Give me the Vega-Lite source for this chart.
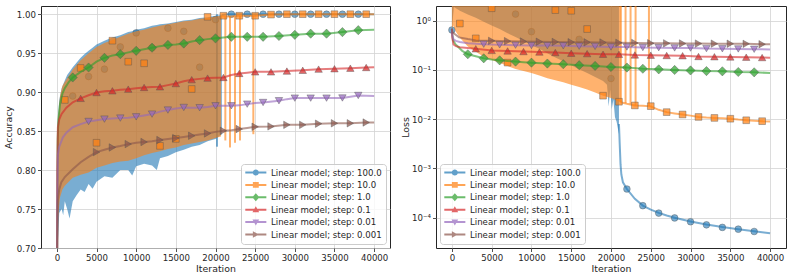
{
"$schema":"https://vega.github.io/schema/vega-lite/v6.json",
"background":"white",
"padding":{"left":2,"top":5,"right":6,"bottom":2},
"spacing":9,
"datasets":{
"aB":[
{"s":"100.0","x":0,"y":0.60,"hi":0.75},{"s":"100.0","x":100,"y":0.70,"hi":0.86},{"s":"100.0","x":300,"y":0.745,"hi":0.89},{"s":"100.0","x":600,"y":0.75,"hi":0.905},{"s":"100.0","x":800,"y":0.742,"hi":0.91},{"s":"100.0","x":1000,"y":0.76,"hi":0.915},{"s":"100.0","x":1300,"y":0.75,"hi":0.922},{"s":"100.0","x":1600,"y":0.738,"hi":0.926},{"s":"100.0","x":2000,"y":0.76,"hi":0.932},{"s":"100.0","x":2500,"y":0.768,"hi":0.938},{"s":"100.0","x":3000,"y":0.775,"hi":0.944},{"s":"100.0","x":3500,"y":0.772,"hi":0.949},{"s":"100.0","x":4000,"y":0.782,"hi":0.953},{"s":"100.0","x":4500,"y":0.776,"hi":0.957},{"s":"100.0","x":5000,"y":0.785,"hi":0.961},{"s":"100.0","x":6000,"y":0.792,"hi":0.966},{"s":"100.0","x":7000,"y":0.79,"hi":0.970},{"s":"100.0","x":8000,"y":0.80,"hi":0.973},{"s":"100.0","x":9000,"y":0.80,"hi":0.977},{"s":"100.0","x":9500,"y":0.793,"hi":0.978},{"s":"100.0","x":10000,"y":0.805,"hi":0.980},{"s":"100.0","x":11000,"y":0.808,"hi":0.982},{"s":"100.0","x":12000,"y":0.806,"hi":0.985},{"s":"100.0","x":12600,"y":0.800,"hi":0.986},{"s":"100.0","x":13000,"y":0.815,"hi":0.987},{"s":"100.0","x":14000,"y":0.818,"hi":0.988},{"s":"100.0","x":15000,"y":0.823,"hi":0.990},{"s":"100.0","x":16000,"y":0.826,"hi":0.992},{"s":"100.0","x":17000,"y":0.830,"hi":0.993},{"s":"100.0","x":18000,"y":0.832,"hi":0.995},{"s":"100.0","x":19000,"y":0.837,"hi":0.996},{"s":"100.0","x":20000,"y":0.840,"hi":0.998},{"s":"100.0","x":20800,"y":0.846,"hi":0.999},
{"s":"10.0","x":0,"y":0.60,"hi":0.74},{"s":"10.0","x":150,"y":0.74,"hi":0.865},{"s":"10.0","x":400,"y":0.765,"hi":0.895},{"s":"10.0","x":700,"y":0.775,"hi":0.908},{"s":"10.0","x":1000,"y":0.780,"hi":0.913},{"s":"10.0","x":2000,"y":0.790,"hi":0.929},{"s":"10.0","x":3000,"y":0.794,"hi":0.941},{"s":"10.0","x":4000,"y":0.797,"hi":0.950},{"s":"10.0","x":5000,"y":0.803,"hi":0.958},{"s":"10.0","x":6000,"y":0.806,"hi":0.963},{"s":"10.0","x":7000,"y":0.809,"hi":0.967},{"s":"10.0","x":8000,"y":0.811,"hi":0.971},{"s":"10.0","x":9000,"y":0.812,"hi":0.975},{"s":"10.0","x":10000,"y":0.815,"hi":0.978},{"s":"10.0","x":11000,"y":0.819,"hi":0.980},{"s":"10.0","x":12000,"y":0.822,"hi":0.983},{"s":"10.0","x":13000,"y":0.824,"hi":0.985},{"s":"10.0","x":14000,"y":0.827,"hi":0.987},{"s":"10.0","x":15000,"y":0.829,"hi":0.989},{"s":"10.0","x":16000,"y":0.832,"hi":0.991},{"s":"10.0","x":17000,"y":0.834,"hi":0.992},{"s":"10.0","x":18000,"y":0.836,"hi":0.994},{"s":"10.0","x":19000,"y":0.838,"hi":0.995},{"s":"10.0","x":20000,"y":0.841,"hi":0.997},{"s":"10.0","x":20700,"y":0.843,"hi":0.998}
],
"aS":[
{"s":"100.0","x":20190,"y":0.83,"hi":1.0},
{"s":"10.0","x":21240,"y":0.838,"hi":0.997},{"s":"10.0","x":21830,"y":0.829,"hi":0.997},{"s":"10.0","x":22460,"y":0.835,"hi":0.997},{"s":"10.0","x":23090,"y":0.838,"hi":0.998},{"s":"10.0","x":24770,"y":0.846,"hi":0.998}
],
"aL":[
{"s":"100.0","x":20800,"y":0.999},{"s":"100.0","x":21500,"y":1.0},{"s":"100.0","x":40000,"y":1.0},
{"s":"10.0","x":20700,"y":0.997},{"s":"10.0","x":22000,"y":0.997},{"s":"10.0","x":23000,"y":0.998},{"s":"10.0","x":25000,"y":0.998},{"s":"10.0","x":27000,"y":0.9995},{"s":"10.0","x":30000,"y":1.0},{"s":"10.0","x":40000,"y":1.0},
{"s":"1.0","x":0,"y":0.5},{"s":"1.0","x":50,"y":0.78},{"s":"1.0","x":100,"y":0.84},{"s":"1.0","x":200,"y":0.865},{"s":"1.0","x":400,"y":0.885},{"s":"1.0","x":700,"y":0.898},{"s":"1.0","x":1000,"y":0.905},{"s":"1.0","x":1500,"y":0.913},{"s":"1.0","x":2000,"y":0.9188},{"s":"1.0","x":3000,"y":0.926},{"s":"1.0","x":4000,"y":0.9316},{"s":"1.0","x":5000,"y":0.939},{"s":"1.0","x":6000,"y":0.944},{"s":"1.0","x":7000,"y":0.947},{"s":"1.0","x":8000,"y":0.9487},{"s":"1.0","x":9000,"y":0.951},{"s":"1.0","x":10000,"y":0.953},{"s":"1.0","x":11000,"y":0.955},{"s":"1.0","x":12000,"y":0.957},{"s":"1.0","x":13000,"y":0.959},{"s":"1.0","x":14000,"y":0.9606},{"s":"1.0","x":15000,"y":0.961},{"s":"1.0","x":16000,"y":0.9623},{"s":"1.0","x":17000,"y":0.965},{"s":"1.0","x":18000,"y":0.9667},{"s":"1.0","x":19000,"y":0.968},{"s":"1.0","x":20000,"y":0.969},{"s":"1.0","x":21000,"y":0.970},{"s":"1.0","x":22000,"y":0.971},{"s":"1.0","x":24000,"y":0.971},{"s":"1.0","x":26000,"y":0.971},{"s":"1.0","x":28000,"y":0.972},{"s":"1.0","x":30000,"y":0.9735},{"s":"1.0","x":32000,"y":0.975},{"s":"1.0","x":34000,"y":0.975},{"s":"1.0","x":36000,"y":0.977},{"s":"1.0","x":38000,"y":0.9795},{"s":"1.0","x":40000,"y":0.980},
{"s":"0.1","x":0,"y":0.5},{"s":"0.1","x":50,"y":0.80},{"s":"0.1","x":130,"y":0.855},{"s":"0.1","x":300,"y":0.865},{"s":"0.1","x":600,"y":0.872},{"s":"0.1","x":1200,"y":0.880},{"s":"0.1","x":2000,"y":0.887},{"s":"0.1","x":3000,"y":0.892},{"s":"0.1","x":4000,"y":0.896},{"s":"0.1","x":5000,"y":0.8995},{"s":"0.1","x":6000,"y":0.901},{"s":"0.1","x":7000,"y":0.9017},{"s":"0.1","x":8000,"y":0.903},{"s":"0.1","x":9000,"y":0.9038},{"s":"0.1","x":10000,"y":0.905},{"s":"0.1","x":11000,"y":0.906},{"s":"0.1","x":12000,"y":0.9065},{"s":"0.1","x":13000,"y":0.9068},{"s":"0.1","x":14000,"y":0.909},{"s":"0.1","x":15000,"y":0.911},{"s":"0.1","x":16000,"y":0.914},{"s":"0.1","x":17000,"y":0.916},{"s":"0.1","x":18000,"y":0.917},{"s":"0.1","x":19000,"y":0.918},{"s":"0.1","x":20000,"y":0.9185},{"s":"0.1","x":21000,"y":0.9188},{"s":"0.1","x":22000,"y":0.922},{"s":"0.1","x":23000,"y":0.924},{"s":"0.1","x":24000,"y":0.925},{"s":"0.1","x":25000,"y":0.926},{"s":"0.1","x":27000,"y":0.926},{"s":"0.1","x":29000,"y":0.927},{"s":"0.1","x":31000,"y":0.928},{"s":"0.1","x":33000,"y":0.9295},{"s":"0.1","x":35000,"y":0.930},{"s":"0.1","x":37000,"y":0.9307},{"s":"0.1","x":39000,"y":0.9316},{"s":"0.1","x":40000,"y":0.932},
{"s":"0.01","x":0,"y":0.5},{"s":"0.01","x":50,"y":0.76},{"s":"0.01","x":130,"y":0.82},{"s":"0.01","x":300,"y":0.83},{"s":"0.01","x":760,"y":0.842},{"s":"0.01","x":1200,"y":0.848},{"s":"0.01","x":2000,"y":0.855},{"s":"0.01","x":3000,"y":0.859},{"s":"0.01","x":4000,"y":0.8623},{"s":"0.01","x":5000,"y":0.864},{"s":"0.01","x":6000,"y":0.8654},{"s":"0.01","x":7000,"y":0.866},{"s":"0.01","x":8000,"y":0.8667},{"s":"0.01","x":9000,"y":0.867},{"s":"0.01","x":10000,"y":0.8683},{"s":"0.01","x":11000,"y":0.870},{"s":"0.01","x":12000,"y":0.8718},{"s":"0.01","x":13000,"y":0.875},{"s":"0.01","x":14000,"y":0.877},{"s":"0.01","x":15000,"y":0.879},{"s":"0.01","x":16000,"y":0.8803},{"s":"0.01","x":17000,"y":0.880},{"s":"0.01","x":18000,"y":0.880},{"s":"0.01","x":19000,"y":0.881},{"s":"0.01","x":20000,"y":0.8825},{"s":"0.01","x":22000,"y":0.8825},{"s":"0.01","x":23000,"y":0.883},{"s":"0.01","x":24000,"y":0.8846},{"s":"0.01","x":25000,"y":0.886},{"s":"0.01","x":26000,"y":0.8867},{"s":"0.01","x":28000,"y":0.889},{"s":"0.01","x":29000,"y":0.891},{"s":"0.01","x":30000,"y":0.8923},{"s":"0.01","x":32000,"y":0.8923},{"s":"0.01","x":34000,"y":0.8923},{"s":"0.01","x":36000,"y":0.8925},{"s":"0.01","x":37000,"y":0.894},{"s":"0.01","x":38000,"y":0.8957},{"s":"0.01","x":40000,"y":0.895},
{"s":"0.001","x":0,"y":0.5},{"s":"0.001","x":50,"y":0.70},{"s":"0.001","x":130,"y":0.761},{"s":"0.001","x":300,"y":0.775},{"s":"0.001","x":550,"y":0.784},{"s":"0.001","x":1000,"y":0.791},{"s":"0.001","x":2000,"y":0.801},{"s":"0.001","x":3000,"y":0.810},{"s":"0.001","x":4000,"y":0.817},{"s":"0.001","x":5000,"y":0.823},{"s":"0.001","x":6000,"y":0.826},{"s":"0.001","x":7000,"y":0.829},{"s":"0.001","x":8000,"y":0.831},{"s":"0.001","x":9000,"y":0.8333},{"s":"0.001","x":10000,"y":0.835},{"s":"0.001","x":11000,"y":0.836},{"s":"0.001","x":12000,"y":0.837},{"s":"0.001","x":13000,"y":0.8385},{"s":"0.001","x":14000,"y":0.840},{"s":"0.001","x":15000,"y":0.841},{"s":"0.001","x":16000,"y":0.8425},{"s":"0.001","x":17000,"y":0.844},{"s":"0.001","x":18000,"y":0.8455},{"s":"0.001","x":19000,"y":0.847},{"s":"0.001","x":20000,"y":0.849},{"s":"0.001","x":21000,"y":0.8504},{"s":"0.001","x":22000,"y":0.851},{"s":"0.001","x":23000,"y":0.8526},{"s":"0.001","x":24000,"y":0.854},{"s":"0.001","x":25000,"y":0.8555},{"s":"0.001","x":27000,"y":0.856},{"s":"0.001","x":29000,"y":0.858},{"s":"0.001","x":31000,"y":0.858},{"s":"0.001","x":33000,"y":0.8595},{"s":"0.001","x":35000,"y":0.860},{"s":"0.001","x":37000,"y":0.860},{"s":"0.001","x":39000,"y":0.861},{"s":"0.001","x":40000,"y":0.861}
],
"aM":[
{"s":"100.0","x":2000,"y":0.895},{"s":"100.0","x":4000,"y":0.92},{"s":"100.0","x":6000,"y":0.9295},{"s":"100.0","x":8000,"y":0.958},{"s":"100.0","x":10000,"y":0.976},{"s":"100.0","x":12000,"y":0.957},{"s":"100.0","x":14000,"y":0.982},{"s":"100.0","x":16000,"y":0.978},{"s":"100.0","x":18000,"y":0.932},{"s":"100.0","x":20000,"y":0.993},{"s":"100.0","x":22000,"y":1.0},{"s":"100.0","x":24000,"y":1.0},{"s":"100.0","x":26000,"y":1.0},{"s":"100.0","x":28000,"y":1.0},{"s":"100.0","x":30000,"y":1.0},{"s":"100.0","x":32000,"y":1.0},{"s":"100.0","x":34000,"y":1.0},{"s":"100.0","x":36000,"y":1.0},{"s":"100.0","x":38000,"y":1.0},
{"s":"10.0","x":1000,"y":0.89},{"s":"10.0","x":3000,"y":0.931},{"s":"10.0","x":5000,"y":0.835},{"s":"10.0","x":7000,"y":0.966},{"s":"10.0","x":9000,"y":0.939},{"s":"10.0","x":11000,"y":0.937},{"s":"10.0","x":13000,"y":0.831},{"s":"10.0","x":15000,"y":0.840},{"s":"10.0","x":17000,"y":0.904},{"s":"10.0","x":19000,"y":0.9966},{"s":"10.0","x":21000,"y":0.998},{"s":"10.0","x":23000,"y":0.998},{"s":"10.0","x":25000,"y":0.998},{"s":"10.0","x":27000,"y":0.9995},{"s":"10.0","x":29000,"y":1.0},{"s":"10.0","x":31000,"y":1.0},{"s":"10.0","x":33000,"y":1.0},{"s":"10.0","x":35000,"y":1.0},{"s":"10.0","x":37000,"y":1.0},{"s":"10.0","x":39000,"y":1.0},
{"s":"1.0","x":2000,"y":0.9188},{"s":"1.0","x":4000,"y":0.9316},{"s":"1.0","x":6000,"y":0.944},{"s":"1.0","x":8000,"y":0.9487},{"s":"1.0","x":10000,"y":0.953},{"s":"1.0","x":12000,"y":0.957},{"s":"1.0","x":14000,"y":0.9606},{"s":"1.0","x":16000,"y":0.9623},{"s":"1.0","x":18000,"y":0.9667},{"s":"1.0","x":20000,"y":0.969},{"s":"1.0","x":22000,"y":0.971},{"s":"1.0","x":24000,"y":0.971},{"s":"1.0","x":26000,"y":0.971},{"s":"1.0","x":28000,"y":0.972},{"s":"1.0","x":30000,"y":0.9735},{"s":"1.0","x":32000,"y":0.975},{"s":"1.0","x":34000,"y":0.975},{"s":"1.0","x":36000,"y":0.977},{"s":"1.0","x":38000,"y":0.9795},
{"s":"0.1","x":3000,"y":0.892},{"s":"0.1","x":5000,"y":0.8995},{"s":"0.1","x":7000,"y":0.9017},{"s":"0.1","x":9000,"y":0.9038},{"s":"0.1","x":11000,"y":0.906},{"s":"0.1","x":13000,"y":0.9068},{"s":"0.1","x":15000,"y":0.911},{"s":"0.1","x":17000,"y":0.916},{"s":"0.1","x":19000,"y":0.918},{"s":"0.1","x":21000,"y":0.9188},{"s":"0.1","x":23000,"y":0.924},{"s":"0.1","x":25000,"y":0.926},{"s":"0.1","x":27000,"y":0.926},{"s":"0.1","x":29000,"y":0.927},{"s":"0.1","x":31000,"y":0.928},{"s":"0.1","x":33000,"y":0.9295},{"s":"0.1","x":35000,"y":0.930},{"s":"0.1","x":37000,"y":0.9307},{"s":"0.1","x":39000,"y":0.9316},
{"s":"0.01","x":4000,"y":0.8623},{"s":"0.01","x":6000,"y":0.8654},{"s":"0.01","x":8000,"y":0.8667},{"s":"0.01","x":10000,"y":0.8683},{"s":"0.01","x":12000,"y":0.8718},{"s":"0.01","x":14000,"y":0.877},{"s":"0.01","x":16000,"y":0.8803},{"s":"0.01","x":18000,"y":0.880},{"s":"0.01","x":20000,"y":0.8825},{"s":"0.01","x":22000,"y":0.8825},{"s":"0.01","x":24000,"y":0.8846},{"s":"0.01","x":26000,"y":0.8867},{"s":"0.01","x":28000,"y":0.889},{"s":"0.01","x":30000,"y":0.8923},{"s":"0.01","x":32000,"y":0.8923},{"s":"0.01","x":34000,"y":0.8923},{"s":"0.01","x":36000,"y":0.8925},{"s":"0.01","x":38000,"y":0.8957},
{"s":"0.001","x":5000,"y":0.823},{"s":"0.001","x":7000,"y":0.829},{"s":"0.001","x":9000,"y":0.8333},{"s":"0.001","x":11000,"y":0.836},{"s":"0.001","x":13000,"y":0.8385},{"s":"0.001","x":15000,"y":0.841},{"s":"0.001","x":17000,"y":0.844},{"s":"0.001","x":19000,"y":0.847},{"s":"0.001","x":21000,"y":0.8504},{"s":"0.001","x":23000,"y":0.8526},{"s":"0.001","x":25000,"y":0.8555},{"s":"0.001","x":27000,"y":0.856},{"s":"0.001","x":29000,"y":0.858},{"s":"0.001","x":31000,"y":0.858},{"s":"0.001","x":33000,"y":0.8595},{"s":"0.001","x":35000,"y":0.860},{"s":"0.001","x":37000,"y":0.860},{"s":"0.001","x":39000,"y":0.861}
],
"lB":[
{"s":"100.0","x":0,"y":0.69,"hi":3},{"s":"100.0","x":250,"y":1.9,"hi":3},{"s":"100.0","x":1000,"y":1.6,"hi":3},{"s":"100.0","x":2000,"y":1.35,"hi":3},{"s":"100.0","x":3000,"y":1.15,"hi":3},{"s":"100.0","x":4000,"y":0.96,"hi":3},{"s":"100.0","x":5000,"y":0.8,"hi":3},{"s":"100.0","x":6000,"y":0.68,"hi":3},{"s":"100.0","x":7000,"y":0.56,"hi":3},{"s":"100.0","x":8000,"y":0.47,"hi":3},{"s":"100.0","x":9000,"y":0.39,"hi":3},{"s":"100.0","x":10000,"y":0.32,"hi":3},{"s":"100.0","x":11000,"y":0.27,"hi":3},{"s":"100.0","x":12000,"y":0.22,"hi":3},{"s":"100.0","x":13000,"y":0.18,"hi":3},{"s":"100.0","x":14000,"y":0.15,"hi":3},{"s":"100.0","x":15000,"y":0.125,"hi":3},{"s":"100.0","x":16000,"y":0.104,"hi":3},{"s":"100.0","x":17000,"y":0.087,"hi":3},{"s":"100.0","x":18000,"y":0.072,"hi":3},{"s":"100.0","x":19000,"y":0.06,"hi":3},{"s":"100.0","x":19500,"y":0.05,"hi":3},{"s":"100.0","x":19700,"y":0.018,"hi":3},{"s":"100.0","x":19900,"y":0.04,"hi":3},{"s":"100.0","x":20100,"y":0.016,"hi":3},{"s":"100.0","x":20300,"y":0.025,"hi":3},{"s":"100.0","x":20500,"y":0.011,"hi":3},{"s":"100.0","x":20700,"y":0.009,"hi":3},{"s":"100.0","x":20900,"y":0.006,"hi":3},{"s":"100.0","x":21000,"y":0.005,"hi":3},
{"s":"10.0","x":0,"y":0.69,"hi":3},{"s":"10.0","x":200,"y":0.8,"hi":3},{"s":"10.0","x":500,"y":0.6,"hi":3},{"s":"10.0","x":1000,"y":0.45,"hi":3},{"s":"10.0","x":2000,"y":0.3,"hi":3},{"s":"10.0","x":3000,"y":0.235,"hi":3},{"s":"10.0","x":4000,"y":0.185,"hi":3},{"s":"10.0","x":5000,"y":0.16,"hi":3},{"s":"10.0","x":6000,"y":0.14,"hi":3},{"s":"10.0","x":7000,"y":0.12,"hi":3},{"s":"10.0","x":8000,"y":0.105,"hi":3},{"s":"10.0","x":9000,"y":0.095,"hi":3},{"s":"10.0","x":10000,"y":0.087,"hi":3},{"s":"10.0","x":11000,"y":0.077,"hi":3},{"s":"10.0","x":12000,"y":0.068,"hi":3},{"s":"10.0","x":13000,"y":0.062,"hi":3},{"s":"10.0","x":14000,"y":0.056,"hi":3},{"s":"10.0","x":15000,"y":0.05,"hi":3},{"s":"10.0","x":16000,"y":0.045,"hi":3},{"s":"10.0","x":17000,"y":0.04,"hi":3},{"s":"10.0","x":18000,"y":0.035,"hi":3},{"s":"10.0","x":19000,"y":0.03,"hi":3},{"s":"10.0","x":20000,"y":0.027,"hi":3},{"s":"10.0","x":20700,"y":0.024,"hi":3},{"s":"10.0","x":21200,"y":0.022,"hi":3}
],
"lS":[
{"s":"10.0","x":21240,"y":0.022,"hi":3},{"s":"10.0","x":21830,"y":0.021,"hi":3},{"s":"10.0","x":22460,"y":0.02,"hi":3},{"s":"10.0","x":23090,"y":0.019,"hi":3},{"s":"10.0","x":24770,"y":0.0184,"hi":3}
],
"lL":[
{"s":"100.0","x":21000,"y":0.008},{"s":"100.0","x":21100,"y":0.003},{"s":"100.0","x":21200,"y":0.0012},{"s":"100.0","x":21300,"y":0.00075},{"s":"100.0","x":21500,"y":0.00052},{"s":"100.0","x":22000,"y":0.00038},{"s":"100.0","x":23000,"y":0.00024},{"s":"100.0","x":24000,"y":0.000175},{"s":"100.0","x":25000,"y":0.000145},{"s":"100.0","x":26000,"y":0.000124},{"s":"100.0","x":27000,"y":0.00011},{"s":"100.0","x":28000,"y":0.000099},{"s":"100.0","x":30000,"y":0.000083},{"s":"100.0","x":32000,"y":0.000072},{"s":"100.0","x":34000,"y":0.000064},{"s":"100.0","x":36000,"y":0.000058},{"s":"100.0","x":38000,"y":0.0000525},{"s":"100.0","x":40000,"y":0.000048},
{"s":"10.0","x":21200,"y":0.022},{"s":"10.0","x":22000,"y":0.0205},{"s":"10.0","x":23000,"y":0.019},{"s":"10.0","x":24000,"y":0.0187},{"s":"10.0","x":25000,"y":0.0182},{"s":"10.0","x":26000,"y":0.0155},{"s":"10.0","x":27000,"y":0.0139},{"s":"10.0","x":28000,"y":0.0131},{"s":"10.0","x":29000,"y":0.01245},{"s":"10.0","x":30000,"y":0.0118},{"s":"10.0","x":31000,"y":0.0111},{"s":"10.0","x":32000,"y":0.0108},{"s":"10.0","x":33000,"y":0.0106},{"s":"10.0","x":34000,"y":0.0104},{"s":"10.0","x":35000,"y":0.0102},{"s":"10.0","x":36000,"y":0.0098},{"s":"10.0","x":37000,"y":0.0095},{"s":"10.0","x":38000,"y":0.0093},{"s":"10.0","x":39000,"y":0.0091},{"s":"10.0","x":40000,"y":0.009},
{"s":"1.0","x":0,"y":0.69},{"s":"1.0","x":30,"y":0.55},{"s":"1.0","x":150,"y":0.4},{"s":"1.0","x":470,"y":0.33},{"s":"1.0","x":1300,"y":0.245},{"s":"1.0","x":2000,"y":0.209},{"s":"1.0","x":3000,"y":0.19},{"s":"1.0","x":4000,"y":0.173},{"s":"1.0","x":5000,"y":0.164},{"s":"1.0","x":6000,"y":0.157},{"s":"1.0","x":7000,"y":0.152},{"s":"1.0","x":8000,"y":0.148},{"s":"1.0","x":9000,"y":0.144},{"s":"1.0","x":10000,"y":0.141},{"s":"1.0","x":12000,"y":0.135},{"s":"1.0","x":14000,"y":0.131},{"s":"1.0","x":16000,"y":0.125},{"s":"1.0","x":18000,"y":0.121},{"s":"1.0","x":20000,"y":0.115},{"s":"1.0","x":22000,"y":0.112},{"s":"1.0","x":24000,"y":0.106},{"s":"1.0","x":26000,"y":0.103},{"s":"1.0","x":28000,"y":0.1},{"s":"1.0","x":30000,"y":0.098},{"s":"1.0","x":32000,"y":0.095},{"s":"1.0","x":34000,"y":0.094},{"s":"1.0","x":36000,"y":0.091},{"s":"1.0","x":38000,"y":0.0897},{"s":"1.0","x":40000,"y":0.087},
{"s":"0.1","x":0,"y":0.69},{"s":"0.1","x":50,"y":0.45},{"s":"0.1","x":200,"y":0.33},{"s":"0.1","x":500,"y":0.305},{"s":"0.1","x":1000,"y":0.29},{"s":"0.1","x":2000,"y":0.28},{"s":"0.1","x":3000,"y":0.27},{"s":"0.1","x":5000,"y":0.25},{"s":"0.1","x":7000,"y":0.244},{"s":"0.1","x":9000,"y":0.237},{"s":"0.1","x":11000,"y":0.232},{"s":"0.1","x":13000,"y":0.226},{"s":"0.1","x":15000,"y":0.219},{"s":"0.1","x":17000,"y":0.215},{"s":"0.1","x":19000,"y":0.209},{"s":"0.1","x":21000,"y":0.208},{"s":"0.1","x":23000,"y":0.202},{"s":"0.1","x":25000,"y":0.2},{"s":"0.1","x":27000,"y":0.197},{"s":"0.1","x":29000,"y":0.195},{"s":"0.1","x":31000,"y":0.188},{"s":"0.1","x":33000,"y":0.186},{"s":"0.1","x":35000,"y":0.184},{"s":"0.1","x":37000,"y":0.182},{"s":"0.1","x":39000,"y":0.179},{"s":"0.1","x":40000,"y":0.177},
{"s":"0.01","x":0,"y":0.69},{"s":"0.01","x":50,"y":0.5},{"s":"0.01","x":200,"y":0.42},{"s":"0.01","x":500,"y":0.39},{"s":"0.01","x":1000,"y":0.37},{"s":"0.01","x":2000,"y":0.35},{"s":"0.01","x":3000,"y":0.34},{"s":"0.01","x":4000,"y":0.334},{"s":"0.01","x":6000,"y":0.324},{"s":"0.01","x":8000,"y":0.32},{"s":"0.01","x":10000,"y":0.314},{"s":"0.01","x":12000,"y":0.313},{"s":"0.01","x":14000,"y":0.31},{"s":"0.01","x":16000,"y":0.305},{"s":"0.01","x":18000,"y":0.302},{"s":"0.01","x":20000,"y":0.294},{"s":"0.01","x":22000,"y":0.293},{"s":"0.01","x":24000,"y":0.286},{"s":"0.01","x":26000,"y":0.284},{"s":"0.01","x":28000,"y":0.281},{"s":"0.01","x":30000,"y":0.279},{"s":"0.01","x":32000,"y":0.272},{"s":"0.01","x":34000,"y":0.27},{"s":"0.01","x":36000,"y":0.268},{"s":"0.01","x":38000,"y":0.264},{"s":"0.01","x":40000,"y":0.262},
{"s":"0.001","x":0,"y":0.69},{"s":"0.001","x":100,"y":0.58},{"s":"0.001","x":900,"y":0.46},{"s":"0.001","x":2000,"y":0.425},{"s":"0.001","x":3000,"y":0.40},{"s":"0.001","x":5000,"y":0.391},{"s":"0.001","x":7000,"y":0.386},{"s":"0.001","x":9000,"y":0.379},{"s":"0.001","x":11000,"y":0.375},{"s":"0.001","x":13000,"y":0.372},{"s":"0.001","x":15000,"y":0.367},{"s":"0.001","x":17000,"y":0.365},{"s":"0.001","x":19000,"y":0.362},{"s":"0.001","x":21000,"y":0.356},{"s":"0.001","x":23000,"y":0.354},{"s":"0.001","x":25000,"y":0.35},{"s":"0.001","x":27000,"y":0.348},{"s":"0.001","x":29000,"y":0.346},{"s":"0.001","x":31000,"y":0.344},{"s":"0.001","x":33000,"y":0.343},{"s":"0.001","x":35000,"y":0.342},{"s":"0.001","x":37000,"y":0.34},{"s":"0.001","x":39000,"y":0.334},{"s":"0.001","x":40000,"y":0.333}
],
"lM":[
{"s":"100.0","x":0,"y":0.65},{"s":"100.0","x":8000,"y":1.37},{"s":"100.0","x":10000,"y":0.6},{"s":"100.0","x":16000,"y":0.42},{"s":"100.0","x":20000,"y":0.067},{"s":"100.0","x":22000,"y":0.00038},{"s":"100.0","x":24000,"y":0.000174},{"s":"100.0","x":26000,"y":0.000123},{"s":"100.0","x":28000,"y":0.000098},{"s":"100.0","x":30000,"y":0.000082},{"s":"100.0","x":32000,"y":0.000071},{"s":"100.0","x":34000,"y":0.000063},{"s":"100.0","x":36000,"y":0.000058},{"s":"100.0","x":38000,"y":0.000052},
{"s":"10.0","x":1000,"y":0.88},{"s":"10.0","x":3000,"y":0.44},{"s":"10.0","x":5000,"y":1.8},{"s":"10.0","x":7000,"y":0.141},{"s":"10.0","x":13000,"y":1.65},{"s":"10.0","x":15000,"y":1.6},{"s":"10.0","x":17000,"y":0.68},{"s":"10.0","x":19000,"y":0.03},{"s":"10.0","x":21000,"y":0.0226},{"s":"10.0","x":23000,"y":0.019},{"s":"10.0","x":25000,"y":0.0184},{"s":"10.0","x":27000,"y":0.0139},{"s":"10.0","x":29000,"y":0.01245},{"s":"10.0","x":31000,"y":0.0111},{"s":"10.0","x":33000,"y":0.0106},{"s":"10.0","x":35000,"y":0.0102},{"s":"10.0","x":37000,"y":0.0095},{"s":"10.0","x":39000,"y":0.0091},
{"s":"1.0","x":2000,"y":0.209},{"s":"1.0","x":4000,"y":0.173},{"s":"1.0","x":6000,"y":0.157},{"s":"1.0","x":8000,"y":0.148},{"s":"1.0","x":10000,"y":0.141},{"s":"1.0","x":12000,"y":0.135},{"s":"1.0","x":14000,"y":0.131},{"s":"1.0","x":16000,"y":0.125},{"s":"1.0","x":18000,"y":0.121},{"s":"1.0","x":20000,"y":0.115},{"s":"1.0","x":22000,"y":0.112},{"s":"1.0","x":24000,"y":0.106},{"s":"1.0","x":26000,"y":0.103},{"s":"1.0","x":28000,"y":0.1},{"s":"1.0","x":30000,"y":0.098},{"s":"1.0","x":32000,"y":0.095},{"s":"1.0","x":34000,"y":0.094},{"s":"1.0","x":36000,"y":0.091},{"s":"1.0","x":38000,"y":0.0897},
{"s":"0.1","x":3000,"y":0.27},{"s":"0.1","x":5000,"y":0.25},{"s":"0.1","x":7000,"y":0.244},{"s":"0.1","x":9000,"y":0.237},{"s":"0.1","x":11000,"y":0.232},{"s":"0.1","x":13000,"y":0.226},{"s":"0.1","x":15000,"y":0.219},{"s":"0.1","x":17000,"y":0.215},{"s":"0.1","x":19000,"y":0.209},{"s":"0.1","x":21000,"y":0.208},{"s":"0.1","x":23000,"y":0.202},{"s":"0.1","x":25000,"y":0.2},{"s":"0.1","x":27000,"y":0.197},{"s":"0.1","x":29000,"y":0.195},{"s":"0.1","x":31000,"y":0.188},{"s":"0.1","x":33000,"y":0.186},{"s":"0.1","x":35000,"y":0.184},{"s":"0.1","x":37000,"y":0.182},{"s":"0.1","x":39000,"y":0.179},
{"s":"0.01","x":4000,"y":0.334},{"s":"0.01","x":6000,"y":0.324},{"s":"0.01","x":8000,"y":0.32},{"s":"0.01","x":10000,"y":0.314},{"s":"0.01","x":12000,"y":0.313},{"s":"0.01","x":14000,"y":0.31},{"s":"0.01","x":16000,"y":0.305},{"s":"0.01","x":18000,"y":0.302},{"s":"0.01","x":20000,"y":0.294},{"s":"0.01","x":22000,"y":0.293},{"s":"0.01","x":24000,"y":0.286},{"s":"0.01","x":26000,"y":0.284},{"s":"0.01","x":28000,"y":0.281},{"s":"0.01","x":30000,"y":0.279},{"s":"0.01","x":32000,"y":0.272},{"s":"0.01","x":34000,"y":0.27},{"s":"0.01","x":36000,"y":0.268},{"s":"0.01","x":38000,"y":0.264},
{"s":"0.001","x":5000,"y":0.391},{"s":"0.001","x":7000,"y":0.386},{"s":"0.001","x":9000,"y":0.379},{"s":"0.001","x":11000,"y":0.375},{"s":"0.001","x":13000,"y":0.372},{"s":"0.001","x":15000,"y":0.367},{"s":"0.001","x":17000,"y":0.365},{"s":"0.001","x":19000,"y":0.362},{"s":"0.001","x":21000,"y":0.356},{"s":"0.001","x":23000,"y":0.354},{"s":"0.001","x":25000,"y":0.35},{"s":"0.001","x":27000,"y":0.348},{"s":"0.001","x":29000,"y":0.346},{"s":"0.001","x":31000,"y":0.344},{"s":"0.001","x":33000,"y":0.343},{"s":"0.001","x":35000,"y":0.342},{"s":"0.001","x":37000,"y":0.34},{"s":"0.001","x":39000,"y":0.334}
]
},
"hconcat":[
{
"width":349,"height":242,
"encoding":{
"x":{"field":"x","type":"quantitative","scale":{"domain":[-2000,42000],"nice":false,"zero":false},"axis":{"values":[0,5000,10000,15000,20000,25000,30000,35000,40000],"format":"d","title":"Iteration"}},
"y":{"field":"y","type":"quantitative","scale":{"domain":[0.7,1.0105],"nice":false,"zero":false},"axis":{"values":[0.7,0.75,0.8,0.85,0.9,0.95,1.0],"format":".2f","title":"Accuracy"}}
},
"layer":[
{"data":{"name":"aB"},"transform":[{"filter":"datum.s=='100.0'"}],"mark":{"type":"area","color":"#1f77b4","opacity":0.6,"clip":true},"encoding":{"y2":{"field":"hi"}}},
{"data":{"name":"aS"},"transform":[{"filter":"datum.s=='100.0'"}],"mark":{"type":"rule","color":"#1f77b4","opacity":0.6,"strokeWidth":2,"clip":true},"encoding":{"y2":{"field":"hi"}}},
{"data":{"name":"aL"},"transform":[{"filter":"datum.s=='100.0'"}],"mark":{"type":"line","color":"#1f77b4","opacity":0.6,"strokeWidth":2,"clip":true},"encoding":{}},
{"data":{"name":"aM"},"transform":[{"filter":"datum.s=='100.0'"}],"mark":{"type":"point","shape":"circle","filled":true,"color":"#1f77b4","size":45,"fillOpacity":0.6,"stroke":"#555555","strokeWidth":0.7,"strokeOpacity":0.6,"clip":true},"encoding":{}},
{"data":{"name":"aB"},"transform":[{"filter":"datum.s=='10.0'"}],"mark":{"type":"area","color":"#ff7f0e","opacity":0.6,"clip":true},"encoding":{"y2":{"field":"hi"}}},
{"data":{"name":"aS"},"transform":[{"filter":"datum.s=='10.0'"}],"mark":{"type":"rule","color":"#ff7f0e","opacity":0.6,"strokeWidth":2,"clip":true},"encoding":{"y2":{"field":"hi"}}},
{"data":{"name":"aL"},"transform":[{"filter":"datum.s=='10.0'"}],"mark":{"type":"line","color":"#ff7f0e","opacity":0.6,"strokeWidth":2,"clip":true},"encoding":{}},
{"data":{"name":"aM"},"transform":[{"filter":"datum.s=='10.0'"}],"mark":{"type":"point","shape":"square","filled":true,"color":"#ff7f0e","size":45,"fillOpacity":0.7,"stroke":"#555555","strokeWidth":0.7,"strokeOpacity":0.6,"clip":true},"encoding":{}},
{"data":{"name":"aL"},"transform":[{"filter":"datum.s!='100.0' && datum.s!='10.0'"}],"mark":{"type":"line","opacity":0.6,"strokeWidth":2,"clip":true},"encoding":{"color":{"field":"s","type":"nominal","scale":{"domain":["100.0","10.0","1.0","0.1","0.01","0.001"],"range":["#1f77b4","#ff7f0e","#2ca02c","#d62728","#9467bd","#8c564b"]},"legend":null}}},
{"data":{"name":"aM"},"transform":[{"filter":"datum.s!='100.0' && datum.s!='10.0'"}],"mark":{"type":"point","filled":true,"fillOpacity":0.7,"stroke":"#555555","strokeWidth":0.7,"strokeOpacity":0.6,"clip":true},"encoding":{"color":{"field":"s","type":"nominal","scale":{"domain":["100.0","10.0","1.0","0.1","0.01","0.001"],"range":["#1f77b4","#ff7f0e","#2ca02c","#d62728","#9467bd","#8c564b"]},"legend":null},"shape":{"field":"s","type":"nominal","scale":{"domain":["100.0","10.0","1.0","0.1","0.01","0.001"],"range":["circle","square","diamond","triangle-up","triangle-down","triangle-right"]},"legend":null},"size":{"condition":{"test":"datum.s=='1.0'","value":85},"value":55}}},
{"data":{"name":"aM"},"mark":{"type":"point","filled":true,"opacity":0},"encoding":{"color":{"field":"s","type":"nominal","scale":{"domain":["100.0","10.0","1.0","0.1","0.01","0.001"],"range":["#1f77b4","#ff7f0e","#2ca02c","#d62728","#9467bd","#8c564b"]},"legend":{"orient":"bottom-right","offset":4,"title":null,"labelExpr":"'Linear model; step: ' + datum.label"}},"shape":{"field":"s","type":"nominal","scale":{"domain":["100.0","10.0","1.0","0.1","0.01","0.001"],"range":["M-1,-0.24H4V0.24H-1Z M2.22,0A0.72,0.72 0 1,1 0.78,0A0.72,0.72 0 1,1 2.22,0Z","M-1,-0.24H4V0.24H-1Z M0.8,-0.7H2.2V0.7H0.8Z","M-1,-0.24H4V0.24H-1Z M1.5,-0.95L2.35,0L1.5,0.95L0.65,0Z","M-1,-0.24H4V0.24H-1Z M1.5,-0.8L2.3,0.6L0.7,0.6Z","M-1,-0.24H4V0.24H-1Z M0.7,-0.6L2.3,-0.6L1.5,0.8Z","M-1,-0.24H4V0.24H-1Z M0.8,-0.8L2.2,0L0.8,0.8Z"]},"legend":{"orient":"bottom-right","offset":4,"title":null,"labelExpr":"'Linear model; step: ' + datum.label"}}}}
],
"resolve":{"scale":{"color":"independent","shape":"independent"}}
},
{
"width":350,"height":242,
"encoding":{
"x":{"field":"x","type":"quantitative","scale":{"domain":[-2000,42000],"nice":false,"zero":false},"axis":{"values":[0,5000,10000,15000,20000,25000,30000,35000,40000],"format":"d","title":"Iteration"}},
"y":{"field":"y","type":"quantitative","scale":{"type":"log","domain":[0.000024,2.0],"nice":false},"axis":{"values":[0.0001,0.001,0.01,0.1,1],"labelExpr":"datum.value >= 0.5 ? '10⁰' : datum.value >= 0.05 ? '10⁻¹' : datum.value >= 0.005 ? '10⁻²' : datum.value >= 0.0005 ? '10⁻³' : '10⁻⁴'","title":"Loss","titlePadding":1}}
},
"layer":[
{"data":{"name":"lB"},"transform":[{"filter":"datum.s=='100.0'"}],"mark":{"type":"area","color":"#1f77b4","opacity":0.6,"clip":true},"encoding":{"y2":{"field":"hi"}}},
{"data":{"name":"lL"},"transform":[{"filter":"datum.s=='100.0'"}],"mark":{"type":"line","color":"#1f77b4","opacity":0.6,"strokeWidth":2,"clip":true},"encoding":{}},
{"data":{"name":"lM"},"transform":[{"filter":"datum.s=='100.0'"}],"mark":{"type":"point","shape":"circle","filled":true,"color":"#1f77b4","size":45,"fillOpacity":0.6,"stroke":"#555555","strokeWidth":0.7,"strokeOpacity":0.6,"clip":true},"encoding":{}},
{"data":{"name":"lB"},"transform":[{"filter":"datum.s=='10.0'"}],"mark":{"type":"area","color":"#ff7f0e","opacity":0.6,"clip":true},"encoding":{"y2":{"field":"hi"}}},
{"data":{"name":"lS"},"transform":[{"filter":"datum.s=='10.0'"}],"mark":{"type":"rule","color":"#ff7f0e","opacity":0.6,"strokeWidth":2,"clip":true},"encoding":{"y2":{"field":"hi"}}},
{"data":{"name":"lL"},"transform":[{"filter":"datum.s=='10.0'"}],"mark":{"type":"line","color":"#ff7f0e","opacity":0.6,"strokeWidth":2,"clip":true},"encoding":{}},
{"data":{"name":"lM"},"transform":[{"filter":"datum.s=='10.0'"}],"mark":{"type":"point","shape":"square","filled":true,"color":"#ff7f0e","size":45,"fillOpacity":0.7,"stroke":"#555555","strokeWidth":0.7,"strokeOpacity":0.6,"clip":true},"encoding":{}},
{"data":{"name":"lL"},"transform":[{"filter":"datum.s!='100.0' && datum.s!='10.0'"}],"mark":{"type":"line","opacity":0.6,"strokeWidth":2,"clip":true},"encoding":{"color":{"field":"s","type":"nominal","scale":{"domain":["100.0","10.0","1.0","0.1","0.01","0.001"],"range":["#1f77b4","#ff7f0e","#2ca02c","#d62728","#9467bd","#8c564b"]},"legend":null}}},
{"data":{"name":"lM"},"transform":[{"filter":"datum.s!='100.0' && datum.s!='10.0'"}],"mark":{"type":"point","filled":true,"fillOpacity":0.7,"stroke":"#555555","strokeWidth":0.7,"strokeOpacity":0.6,"clip":true},"encoding":{"color":{"field":"s","type":"nominal","scale":{"domain":["100.0","10.0","1.0","0.1","0.01","0.001"],"range":["#1f77b4","#ff7f0e","#2ca02c","#d62728","#9467bd","#8c564b"]},"legend":null},"shape":{"field":"s","type":"nominal","scale":{"domain":["100.0","10.0","1.0","0.1","0.01","0.001"],"range":["circle","square","diamond","triangle-up","triangle-down","triangle-right"]},"legend":null},"size":{"condition":{"test":"datum.s=='1.0'","value":85},"value":55}}},
{"data":{"name":"lM"},"mark":{"type":"point","filled":true,"opacity":0},"encoding":{"color":{"field":"s","type":"nominal","scale":{"domain":["100.0","10.0","1.0","0.1","0.01","0.001"],"range":["#1f77b4","#ff7f0e","#2ca02c","#d62728","#9467bd","#8c564b"]},"legend":{"orient":"bottom-left","offset":4,"title":null,"labelExpr":"'Linear model; step: ' + datum.label"}},"shape":{"field":"s","type":"nominal","scale":{"domain":["100.0","10.0","1.0","0.1","0.01","0.001"],"range":["M-1,-0.24H4V0.24H-1Z M2.22,0A0.72,0.72 0 1,1 0.78,0A0.72,0.72 0 1,1 2.22,0Z","M-1,-0.24H4V0.24H-1Z M0.8,-0.7H2.2V0.7H0.8Z","M-1,-0.24H4V0.24H-1Z M1.5,-0.95L2.35,0L1.5,0.95L0.65,0Z","M-1,-0.24H4V0.24H-1Z M1.5,-0.8L2.3,0.6L0.7,0.6Z","M-1,-0.24H4V0.24H-1Z M0.7,-0.6L2.3,-0.6L1.5,0.8Z","M-1,-0.24H4V0.24H-1Z M0.8,-0.8L2.2,0L0.8,0.8Z"]},"legend":{"orient":"bottom-left","offset":4,"title":null,"labelExpr":"'Linear model; step: ' + datum.label"}}}}
],
"resolve":{"scale":{"color":"independent","shape":"independent"}}
}
],
"config":{
"font":"DejaVu Sans",
"view":{"stroke":"#262626","strokeWidth":1},
"axis":{"labelFont":"DejaVu Sans","labelFontSize":8.6,"labelColor":"#262626","titleFont":"DejaVu Sans","titleFontSize":9.4,"titleFontWeight":"normal","titleColor":"#262626","tickColor":"#262626","tickSize":3.5,"tickWidth":0.8,"domain":false,"grid":true,"gridColor":"#d3d3d3","gridWidth":0.8,"labelPadding":2,"labelFlush":false,"labelOverlap":false},
"axisX":{"titlePadding":2},
"axisY":{"titlePadding":3},
"legend":{"labelFont":"DejaVu Sans","labelFontSize":8.6,"labelColor":"#262626","fillColor":"rgba(255,255,255,0.8)","strokeColor":"#cccccc","cornerRadius":3,"padding":4,"rowPadding":2.4,"symbolSize":71,"symbolStrokeWidth":0,"symbolOpacity":0.7,"labelOffset":17}
}
}
